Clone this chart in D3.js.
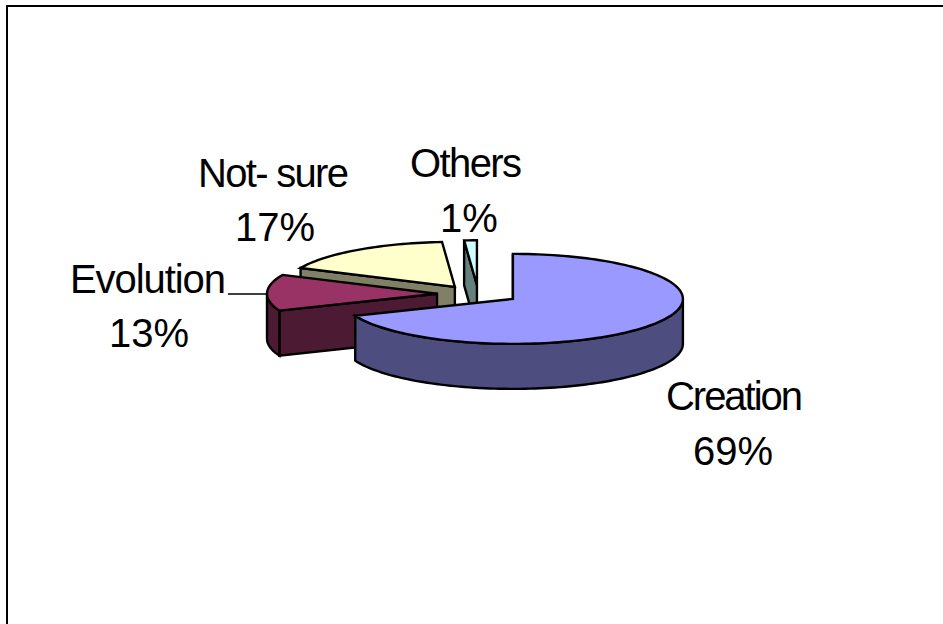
<!DOCTYPE html>
<html><head><meta charset="utf-8">
<style>html,body{margin:0;padding:0;background:#fff;overflow:hidden}svg{display:block}text{font-family:"Liberation Sans",Arial,sans-serif;fill:#000}</style>
<script src="https://cdn.jsdelivr.net/npm/d3@7/dist/d3.min.js"></script>
</head><body>
<script>
const categories = ["Creation", "Evolution", "Not- sure", "Others"];
const values = [68.9, 13.0, 16.9, 1.2];
const percentLabels = ["69%", "13%", "17%", "1%"];
const topColors = ["#9999ff", "#993366", "#ffffcc", "#ccffff"];
const wallColors = ["#4d4d80", "#4d1a33", "#808066", "#668080"];
const drawOrder = [2, 3, 1, 0];

const W = 943, H = 624;
const center = {x: 478.5, y: 294}, rx = 170, ry = 45, depth = 45, explode = 41.5, explodeTilt = 0.21;
const labelPos = [
  {cx: 734.5, y: 410, w: 137, cx2: 733, y2: 465},
  {cx: 148, y: 293, w: 156, cx2: 149, y2: 347},
  {cx: 273.5, y: 187, w: 151, cx2: 275, y2: 241},
  {cx: 466, y: 177, w: 112, cx2: 469, y2: 232}
];
const svg = d3.select("body").append("svg").attr("width", W).attr("height", H);

svg.append("path").attr("d", d3.line()([[7, H], [7, 6], [W, 6]]))
  .attr("fill", "none").attr("stroke", "#000").attr("stroke-width", 2);

const arcs = d3.pie().sort(null).value(d => d)(values);
const pt = (apex, a, dy = 0) => [apex.x + rx * Math.sin(a), apex.y - ry * Math.cos(a) + dy];
const line = d3.line();
const arcPts = (apex, a0, a1, dy = 0) => {
  const n = Math.max(2, Math.ceil((a1 - a0) / 0.03));
  return d3.range(n + 1).map(i => pt(apex, a0 + (a1 - a0) * i / n, dy));
};
const g = svg.append("g").attr("stroke", "#000").attr("stroke-width", 2.4).attr("stroke-linejoin", "miter");

drawOrder.forEach(i => {
  const d = arcs[i], mid = (d.startAngle + d.endAngle) / 2;
  const apex = {
    x: center.x + explode * Math.sin(mid),
    y: center.y - explode * explodeTilt * Math.cos(mid)
  };
  const start = pt(apex, d.startAngle);
  g.append("path").attr("fill", wallColors[i]).attr("d", line([
    [apex.x, apex.y], start, [start[0], start[1] + depth], [apex.x, apex.y + depth]
  ]) + "Z");
  const w0 = Math.max(d.startAngle, Math.PI / 2), w1 = Math.min(d.endAngle, 1.5 * Math.PI);
  if (w1 > w0) {
    g.append("path").attr("fill", wallColors[i]).attr("d", line(
      arcPts(apex, w0, w1).concat(arcPts(apex, w0, w1, depth).reverse())
    ) + "Z");
  }
  g.append("path").attr("fill", topColors[i]).attr("d", line(
    [[apex.x, apex.y]].concat(arcPts(apex, d.startAngle, d.endAngle))
  ) + "Z");
});

svg.append("path").attr("d", d3.line()([[228, 294], [267, 294]]))
  .attr("stroke", "#000").attr("stroke-width", 1.5).attr("fill", "none");

categories.forEach((c, i) => {
  const p = labelPos[i];
  svg.append("text").attr("x", p.cx - p.w / 2).attr("y", p.y)
    .attr("font-size", 40).attr("textLength", p.w).attr("lengthAdjust", "spacing").text(c);
  svg.append("text").attr("x", p.cx2).attr("y", p.y2).attr("text-anchor", "middle")
    .attr("font-size", 40).text(percentLabels[i]);
});
</script>
</body></html>
